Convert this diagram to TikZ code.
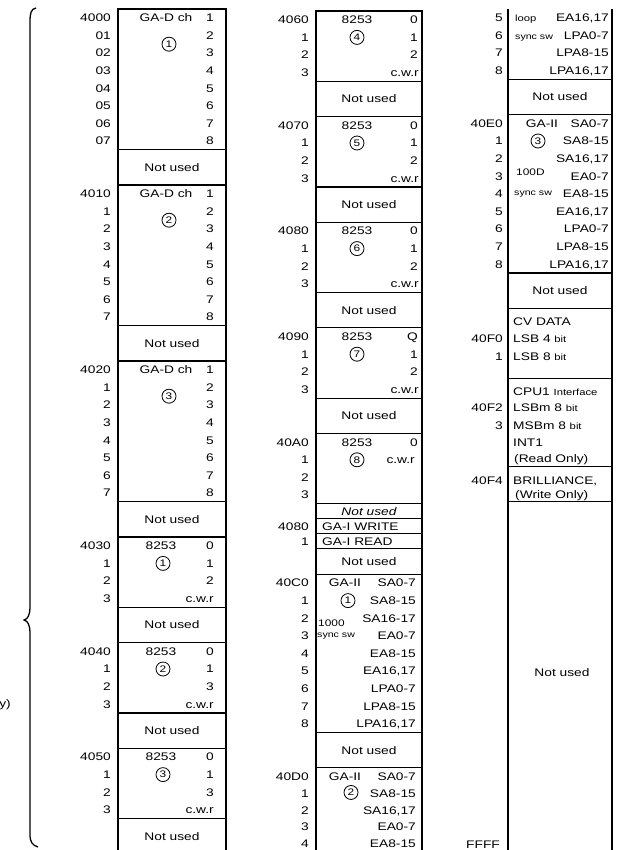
\documentclass[tikz,border=0pt]{standalone}
\usepackage{fontspec}
\setmainfont{Liberation Sans}[FakeStretch=1.25]
\usetikzlibrary{positioning}

\begin{document}
\begin{tikzpicture}[
  x=1pt, y=-1pt,
  font=\fontsize{11}{12}\selectfont,
  node distance=0pt,
  txt/.style={inner sep=0pt, text height=7.9pt, text depth=0pt},
  cellA/.style={draw, line width=1.2pt, minimum width=108pt, inner sep=0pt, outer sep=0pt, text height=7.9pt, text depth=0pt},
  cellB/.style={cellA, minimum width=106pt},
  cellC/.style={cellA, minimum width=104pt},
  rows/.style={minimum height=#1*17.6pt},
  addr/.style={anchor=east},
  rt/.style={anchor=east},
  lt/.style={anchor=west},
  small/.style={font=\fontsize{8.5}{9}\selectfont},
  chip/.style={circle, draw, line width=0.8pt, minimum size=14pt, inner sep=0pt, font=\fontsize{9.5}{10}\selectfont}
]
\useasboundingbox (0,0) rectangle (627,850);

% left brace
\draw[line width=1.3pt] (36,8) .. controls (31,9) and (30,13) .. (30,22) -- (30,606)
  .. controls (30,615) and (28,619) .. (24,620) .. controls (28,621) and (30,625) .. (30,634)
  -- (30,834) .. controls (30,842) and (32,845) .. (38,847);
\node[txt, addr] (yl) at (11,704) {y)};

% column 1
\node[cellA, rows=8, anchor=north] (c1a) at (172,9) {};
\node[cellA, rows=2, below=of c1a] (c1b) {Not used};
\node[cellA, rows=8, below=of c1b] (c1c) {};
\node[cellA, rows=2, below=of c1c] (c1d) {Not used};
\node[cellA, rows=8, below=of c1d] (c1e) {};
\node[cellA, rows=2, below=of c1e] (c1f) {Not used};
\node[cellA, rows=4, below=of c1f] (c1g) {};
\node[cellA, rows=2, below=of c1g] (c1h) {Not used};
\node[cellA, rows=4, below=of c1h] (c1i) {};
\node[cellA, rows=2, below=of c1i] (c1j) {Not used};
\node[cellA, rows=4, below=of c1j] (c1k) {};
\node[cellA, rows=2, below=of c1k] (c1l) {Not used};

\foreach \s/\n in {0/1, 10/2, 20/3} {
  \node[txt] (gd\n) at (166,{9+(\s+0.5)*17.6}) {GA-D ch};
  \node[chip] (gdc\n) at (169,{9+(\s+2)*17.6}) {\n};
  \foreach \k in {1,...,8}
    \node[txt, rt] (gd\n-\k) at (214,{9+(\s+\k-0.5)*17.6}) {\k};
}
\foreach \t [count=\i from 0] in {4000,01,02,03,04,05,06,07}
  \node[txt, addr] (a1-\i) at (111,{9+(\i+0.5)*17.6}) {\t};
\foreach \t [count=\i from 0] in {4010,1,2,3,4,5,6,7}
  \node[txt, addr] (a2-\i) at (111,{9+(10+\i+0.5)*17.6}) {\t};
\foreach \t [count=\i from 0] in {4020,1,2,3,4,5,6,7}
  \node[txt, addr] (a3-\i) at (111,{9+(20+\i+0.5)*17.6}) {\t};

\foreach \s/\n/\c in {30/1/2, 36/2/3, 42/3/3} {
  \node[txt] (ta\n) at (161,{9+(\s+0.5)*17.6}) {8253};
  \node[chip] (tac\n) at (163,{9+(\s+1.5)*17.6}) {\n};
  \node[txt, rt] (ta\n-0) at (214,{9+(\s+0.5)*17.6}) {0};
  \node[txt, rt] (ta\n-1) at (214,{9+(\s+1.5)*17.6}) {1};
  \node[txt, rt] (ta\n-2) at (214,{9+(\s+2.5)*17.6}) {\c};
  \node[txt, rt] (ta\n-3) at (214,{9+(\s+3.5)*17.6}) {c.w.r};
}
\foreach \s/\t in {30/4030, 36/4040, 42/4050}
  \foreach \u [count=\i from 0] in {\t,1,2,3}
    \node[txt, addr] (a\t-\i) at (111,{9+(\s+\i+0.5)*17.6}) {\u};

% column 2
\node[cellB, rows=4, anchor=north] (c2a) at (369,11) {};
\node[cellB, rows=2, below=of c2a] (c2b) {Not used};
\node[cellB, rows=4, below=of c2b] (c2c) {};
\node[cellB, rows=2, below=of c2c] (c2d) {Not used};
\node[cellB, rows=4, below=of c2d] (c2e) {};
\node[cellB, rows=2, below=of c2e] (c2f) {Not used};
\node[cellB, rows=4, below=of c2f] (c2g) {};
\node[cellB, rows=2, below=of c2g] (c2h) {Not used};
\node[cellB, rows=4, below=of c2h] (c2i) {};
\node[cellB, minimum height=15pt, below=of c2i] (c2j) {\itshape Not used};
\node[cellB, minimum height=15pt, below=of c2j] (c2k) {};
\node[cellB, minimum height=15pt, below=of c2k] (c2l) {};
\node[cellB, minimum height=25.4pt, below=of c2l] (c2m) {Not used};
\node[cellB, rows=9, below=of c2m] (c2n) {};
\node[cellB, rows=2, below=of c2n] (c2o) {Not used};
\node[cellB, rows=6, below=of c2o] (c2p) {};

\foreach \s/\n/\z in {0/4/0, 6/5/0, 12/6/0, 18/7/Q} {
  \node[txt] (tb\n) at (357,{11+(\s+0.5)*17.6}) {8253};
  \node[chip] (tbc\n) at (357,{11+(\s+1.5)*17.6}) {\n};
  \node[txt, rt] (tb\n-0) at (418,{11+(\s+0.5)*17.6}) {\z};
  \node[txt, rt] (tb\n-1) at (418,{11+(\s+1.5)*17.6}) {1};
  \node[txt, rt] (tb\n-2) at (418,{11+(\s+2.5)*17.6}) {2};
  \node[txt, rt] (tb\n-3) at (419,{11+(\s+3.5)*17.6}) {c.w.r};
}
\node[txt] (tb8) at (357,{11+24.5*17.6}) {8253};
\node[chip] (tbc8) at (357,{11+25.5*17.6}) {8};
\node[txt, rt] (tb8-0) at (418,{11+24.5*17.6}) {0};
\node[txt, rt] (tb8-1) at (415,{11+25.5*17.6}) {c.w.r};
\foreach \s/\t in {0/4060, 6/4070, 12/4080, 18/4090, 24/40A0}
  \foreach \u [count=\i from 0] in {\t,1,2,3}
    \node[txt, addr] (b\t-\i) at (309,{11+(\s+\i+0.5)*17.6}) {\u};

\node[txt, lt] (gaw) at ([xshift=6pt]c2k.west) {GA-I WRITE};
\node[txt, lt] (gar) at ([xshift=6pt]c2l.west) {GA-I READ};
\node[txt, addr] (bw-0) at ([xshift=-7pt]c2k.west) {4080};
\node[txt, addr] (bw-1) at ([xshift=-7pt]c2l.west) {1};

\node[txt] (g1) at (345,{11+32.5*17.6}) {GA-II};
\node[chip] (g1c) at (348,{11+33.5*17.6}) {1};
\node[txt, lt, font=\fontsize{9.5}{10}\selectfont] (g1f) at (318,{11+34.5*17.6+4}) {1000};
\node[txt, lt, small] (g1s) at (317,{11+35.5*17.6-2}) {sync sw};
\foreach \t [count=\i from 0] in {SA0-7, SA8-15, SA16-17, EA0-7, EA8-15, {EA16,17}, LPA0-7, LPA8-15, {LPA16,17}}
  \node[txt, rt] (g1-\i) at (416,{11+(32+\i+0.5)*17.6}) {\t};
\foreach \t [count=\i from 0] in {40C0,1,2,3,4,5,6,7,8}
  \node[txt, addr] (bc-\i) at (309,{11+(32+\i+0.5)*17.6}) {\t};

\node[txt] (g2) at (345,{11+43.5*17.6}) {GA-II};
\node[chip] (g2c) at (351,{11+44.4*17.6}) {2};
\foreach \t [count=\i from 0] in {SA0-7, SA8-15, {SA16,17}, EA0-7, EA8-15}
  \node[txt, rt] (g2-\i) at (416,{11+(43+\i+0.5)*17.6-\i*0.8}) {\t};
\foreach \t [count=\i from 0] in {40D0,1,2,3,4}
  \node[txt, addr] (bd-\i) at (309,{11+(43+\i+0.5)*17.6-\i*0.8}) {\t};

% column 3
\node[rows=4, minimum width=104pt, inner sep=0pt, outer sep=0pt, anchor=north] (c3a) at (560,9) {};
\draw[line width=1.2pt] (c3a.north west) -- (c3a.south west) -- (c3a.south east) -- (c3a.north east);
\node[cellC, rows=2, below=of c3a] (c3b) {Not used};
\node[cellC, rows=9, below=of c3b] (c3c) {};
\node[cellC, rows=2, below=of c3c] (c3d) {Not used};
\node[cellC, rows=4, below=of c3d] (c3e) {};
\node[cellC, rows=5, below=of c3e] (c3f) {};
\node[cellC, rows=2, below=of c3f] (c3g) {};
\node[cellC, rows=22, below=of c3g] (c3h) {};

\node[txt, lt, font=\fontsize{9}{10}\selectfont] (lp) at (515,{9+0.5*17.6}) {loop};
\node[txt, lt, small] (ls) at (515,{9+1.5*17.6}) {sync sw};
\foreach \t [count=\i from 5] in {{EA16,17}, LPA0-7, LPA8-15, {LPA16,17}}
  \node[txt, rt] (g2-\i) at (609,{9+(\i-4.5)*17.6}) {\t};
\foreach \t in {5,6,7,8}
  \node[txt, addr] (c-\t) at (503,{9+(\t-4.5)*17.6}) {\t};

\node[txt] (g3) at (542,{9+6.5*17.6}) {GA-II};
\node[chip] (g3c) at (538,{9+7.5*17.6}) {3};
\node[txt, lt, font=\fontsize{9.5}{10}\selectfont] (g3f) at (516,{9+9.5*17.6-5}) {100D};
\node[txt, lt, small] (g3s) at (514,{9+10.5*17.6-2}) {sync sw};
\foreach \t [count=\i from 0] in {SA0-7, SA8-15, {SA16,17}, EA0-7, EA8-15, {EA16,17}, LPA0-7, LPA8-15, {LPA16,17}}
  \node[txt, rt] (g3-\i) at (609,{9+(6+\i+0.5)*17.6}) {\t};
\foreach \t [count=\i from 0] in {40E0,1,2,3,4,5,6,7,8}
  \node[txt, addr] (ce-\i) at (503,{9+(6+\i+0.5)*17.6}) {\t};

\node[txt, lt] (cv0) at (513,322) {CV DATA};
\node[txt, lt] (cv1) at (513,339) {LSB 4 {\fontsize{9}{10}\selectfont bit}};
\node[txt, lt] (cv2) at (513,357) {LSB 8 {\fontsize{9}{10}\selectfont bit}};
\node[txt, addr] (cf-0) at (503,339) {40F0};
\node[txt, addr] (cf-1) at (503,357) {1};

\node[txt, lt] (cp0) at (513,392) {CPU1 {\fontsize{9}{10}\selectfont Interface}};
\node[txt, lt] (cp1) at (513,408) {LSBm 8 {\fontsize{9}{10}\selectfont bit}};
\node[txt, lt] (cp2) at (513,426) {MSBm 8 {\fontsize{9}{10}\selectfont bit}};
\node[txt, lt] (cp3) at (513,443) {INT1};
\node[txt, lt] (cp4) at (514,459) {(Read Only)};
\node[txt, addr] (cf-2) at (503,408) {40F2};
\node[txt, addr] (cf-3) at (503,426) {3};

\node[txt, lt] (br0) at (513,481) {BRILLIANCE,};
\node[txt, lt] (br1) at (515,495) {(Write Only)};
\node[txt, addr] (cf-4) at (503,481) {40F4};

\node[txt] (c3nu) at (562,673) {Not used};
\node[txt, addr] (cff) at (500,845) {FFFF};
\end{tikzpicture}
\end{document}
